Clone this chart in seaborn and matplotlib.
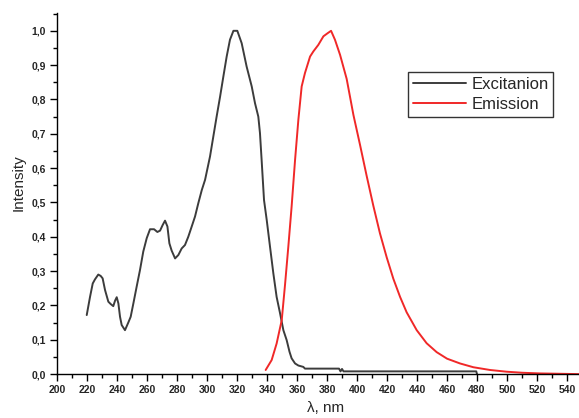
import matplotlib
matplotlib.use("Agg")
import matplotlib.pyplot as plt
from matplotlib.ticker import MultipleLocator, FuncFormatter
import seaborn as sns
import pandas as pd

# Excitation spectrum
exc_nm = [219.8, 222.0, 223.8, 225.3, 227.5, 229.1, 230.4, 232.0, 234.2, 235.8,
          237.5, 238.7, 239.8, 240.9, 242.0, 243.1, 245.3, 247.5, 249.1, 250.9,
          253.1, 255.3, 257.5, 259.8, 262.0, 264.7, 266.9, 268.7, 270.4, 272.0,
          273.6, 274.9, 276.4, 278.7, 280.9, 283.1, 285.3, 287.5, 289.8, 292.0,
          294.2, 296.5, 298.7, 302.0, 304.2, 306.4, 308.7, 310.9, 313.1, 315.3,
          317.6, 320.2, 323.1, 326.4, 329.8, 332.0, 334.2, 335.3, 336.4, 338.0,
          339.8, 342.0, 344.2, 346.4, 348.7, 350.9, 353.1, 355.0, 356.4, 358.7,
          360.9, 364.2, 365.3, 388.0, 389.0, 390.0, 391.0, 479.5, 480.0]
exc_int = [0.172, 0.225, 0.264, 0.276, 0.290, 0.286, 0.279, 0.245, 0.211, 0.204,
           0.198, 0.214, 0.224, 0.206, 0.167, 0.143, 0.128, 0.150, 0.167, 0.206,
           0.255, 0.303, 0.357, 0.396, 0.422, 0.422, 0.414, 0.418, 0.434, 0.447,
           0.430, 0.381, 0.360, 0.337, 0.347, 0.366, 0.376, 0.400, 0.430, 0.459,
           0.498, 0.536, 0.566, 0.634, 0.692, 0.750, 0.808, 0.867, 0.925, 0.974,
           1.000, 1.000, 0.964, 0.896, 0.838, 0.789, 0.750, 0.702, 0.624, 0.507,
           0.449, 0.371, 0.294, 0.225, 0.177, 0.128, 0.099, 0.065, 0.046, 0.031,
           0.025, 0.021, 0.016, 0.016, 0.008, 0.015, 0.008, 0.008, 0.0]

# Emission spectrum
em_nm = [339.1, 343.1, 346.4, 349.8, 352.0, 354.2, 356.4, 358.7, 360.9, 363.1,
         365.3, 368.7, 370.9, 374.2, 377.6, 380.4, 382.7, 385.3, 388.7, 393.1,
         397.6, 402.0, 406.4, 410.9, 415.3, 419.8, 424.2, 428.7, 433.1, 439.8,
         446.4, 453.1, 460.0, 468.7, 477.6, 488.7, 499.8, 510.0, 522.0, 535.0, 548.0]
em_int = [0.012, 0.041, 0.089, 0.157, 0.260, 0.371, 0.488, 0.624, 0.741, 0.838,
          0.877, 0.925, 0.940, 0.959, 0.984, 0.993, 1.000, 0.974, 0.930, 0.860,
          0.755, 0.668, 0.578, 0.490, 0.410, 0.340, 0.278, 0.225, 0.180, 0.128,
          0.090, 0.064, 0.045, 0.031, 0.020, 0.012, 0.007, 0.004, 0.002, 0.001, 0.0]

series_names = ["Excitanion", "Emission"]
series_colors = ["#3c3c3c", "#f02828"]

sns.set_style("ticks")
plt.rcParams["font.family"] = ["Liberation Sans", "DejaVu Sans"]

fig = plt.figure(figsize=(5.79, 4.18), dpi=100)
ax = fig.add_axes([0.0985, 0.105, 0.9015, 0.864])

for name, color, xs, ys in zip(series_names, series_colors,
                               [exc_nm, em_nm], [exc_int, em_int]):
    sns.lineplot(x=xs, y=ys, sort=False, color=color, linewidth=1.4,
                 ax=ax, label=name)

ax.set_xlim(200, 548)
ax.set_ylim(0, 1.052)
ax.xaxis.set_major_locator(MultipleLocator(20))
ax.xaxis.set_minor_locator(MultipleLocator(10))
ax.yaxis.set_major_locator(MultipleLocator(0.1))
ax.yaxis.set_minor_locator(MultipleLocator(0.05))
ax.yaxis.set_major_formatter(FuncFormatter(lambda v, p: f"{v:.1f}".replace(".", ",")))

for s in ["top", "right"]:
    ax.spines[s].set_visible(False)
for s in ["left", "bottom"]:
    ax.spines[s].set_color("black")
    ax.spines[s].set_linewidth(1.0)

ax.tick_params(which="major", direction="out", length=5, width=1.0, color="black",
               labelsize=7.5, pad=3)
ax.tick_params(which="minor", direction="out", length=3, width=1.0, color="black")
for lbl in ax.get_xticklabels() + ax.get_yticklabels():
    lbl.set_fontweight("bold")

ax.set_xlabel("λ, nm", fontsize=11)
ax.set_ylabel("Intensity", fontsize=11)
ax.xaxis.set_label_coords(0.515, -0.075)
ax.yaxis.set_label_coords(-0.06, 0.53)

leg = ax.legend(loc="upper left", bbox_to_anchor=(0.672, 0.837), fontsize=12,
                frameon=True, fancybox=False, shadow=False, borderpad=0.3,
                handlelength=3.2, handletextpad=0.3, labelspacing=0.3,
                borderaxespad=0)
leg.get_frame().set_edgecolor("black")
leg.get_frame().set_linewidth(1.0)

fig.savefig("out.png", dpi=100)
